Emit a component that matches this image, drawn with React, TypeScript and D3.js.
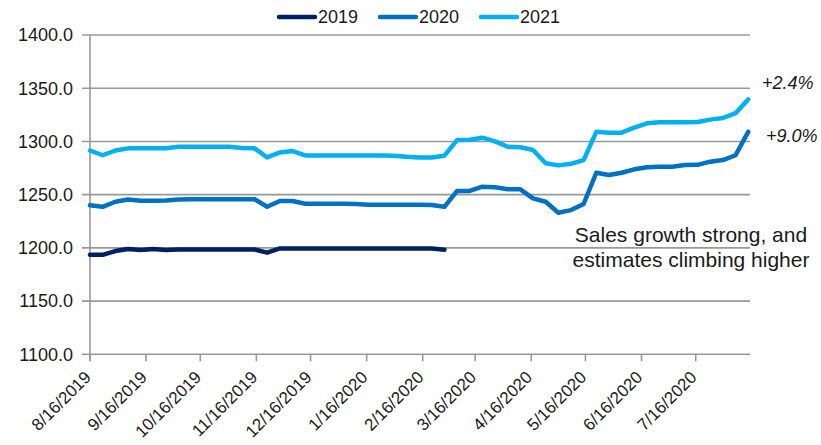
import React from "react";
import * as d3 from "d3";

const startDate = "2019-08-16";
const endDate = "2020-08-15";
const seriesNames = ["2019", "2020", "2021"];
const seriesColors = ["#002060", "#0070C0", "#00B0F0"];

const values2019 = [
  1193.5, 1193.5, 1197, 1199, 1198, 1199, 1198, 1198.5, 1198.5, 1198.5,
  1198.5, 1198.5, 1198.5, 1198.5, 1195.5, 1199.5, 1199.5, 1199.5, 1199.5, 1199.5,
  1199.5, 1199.5, 1199.5, 1199.5, 1199.5, 1199.5, 1199.5, 1199.5, 1198.3,
];
const values2020 = [
  1240, 1238.6, 1243.3, 1245.5, 1244.3, 1244.3, 1244.5, 1245.5, 1245.7, 1245.7,
  1245.7, 1245.7, 1245.7, 1245.7, 1238.6, 1244, 1244, 1241.5, 1241.5, 1241.5,
  1241.5, 1241.2, 1240.5, 1240.5, 1240.5, 1240.5, 1240.5, 1240.3, 1238.6, 1253.5,
  1253.5, 1257.5, 1256.9, 1255, 1255, 1246.5, 1243.3, 1233, 1235.5, 1241.2,
  1270.6, 1268.4, 1270.6, 1273.8, 1275.7, 1276.3, 1276.3, 1277.8, 1278, 1281,
  1282.5, 1287, 1309,
];
const values2021 = [
  1291.5, 1287, 1291.5, 1293.5, 1293.5, 1293.5, 1293.5, 1295, 1295, 1295,
  1295, 1295, 1293.8, 1293.5, 1285, 1289.7, 1291, 1286.8, 1286.8, 1286.8,
  1286.8, 1286.8, 1286.8, 1286.8, 1286.5, 1285.5, 1285, 1285, 1286.6, 1301.3,
  1301.5, 1303.5, 1300, 1295, 1294.5, 1292, 1279.5, 1277.5, 1279, 1282.5,
  1309, 1308.2, 1308.2, 1313, 1317, 1318, 1318, 1318, 1318.3, 1320.5,
  1322, 1326.5, 1339.5,
];
const yTicks = [1100, 1150, 1200, 1250, 1300, 1350, 1400];
const xTickLabels = [
  "8/16/2019", "9/16/2019", "10/16/2019", "11/16/2019", "12/16/2019", "1/16/2020",
  "2/16/2020", "3/16/2020", "4/16/2020", "5/16/2020", "6/16/2020", "7/16/2020",
];
const annotations = ["+2.4%", "+9.0%"];
const noteLines = ["Sales growth strong, and", "estimates climbing higher"];

const W = 821;
const H = 445;
const FONT = "'Liberation Sans', Arial, sans-serif";

export default function App() {
  const parse = d3.timeParse("%Y-%m-%d");
  const parseTick = d3.timeParse("%m/%d/%Y");
  const t0 = parse(startDate) as Date;
  const t1 = parse(endDate) as Date;

  const x = d3.scaleTime().domain([t0, t1]).range([90, 750]);
  const y = d3.scaleLinear().domain([1100, 1400]).range([354.3, 35]);

  const allSeries = [values2019, values2020, values2021];
  const dateAt = (i: number) => d3.timeDay.offset(t0, 7 * i);

  const line = d3
    .line<number>()
    .x((_, i) => x(dateAt(i)))
    .y((d) => y(d));

  const gridColor = "#989898";
  const left = 90;
  const right = 750;
  const bottom = y(1100);

  const legendX = [277, 378, 479];

  return (
    <svg
      width={W}
      height={H}
      style={{ position: "absolute", left: 0, top: 0, background: "#fff" }}
      fontFamily={FONT}
    >
      <rect width={W} height={H} fill="#fff" />
      {yTicks.map((t) => (
        <g key={t}>
          <line x1={82} x2={right} y1={y(t)} y2={y(t)} stroke={gridColor} strokeWidth={1.6} />
          <text x={73} y={y(t)} dy="0.35em" textAnchor="end" fontSize={18} fill="#1a1a1a">
            {t.toFixed(1)}
          </text>
        </g>
      ))}
      <line x1={left} x2={left} y1={y(1400)} y2={bottom + 7} stroke={gridColor} strokeWidth={1.6} />
      {xTickLabels.map((lab) => {
        const tx = x(parseTick(lab) as Date);
        return (
          <g key={lab}>
            <line x1={tx} x2={tx} y1={bottom} y2={bottom + 7} stroke={gridColor} strokeWidth={1.6} />
            <text
              transform={`translate(${tx + 2},${bottom + 24}) rotate(-45)`}
              textAnchor="end"
              fontSize={17}
              fill="#1a1a1a"
            >
              {lab}
            </text>
          </g>
        );
      })}
      {allSeries.map((vals, si) => (
        <path
          key={si}
          d={line(vals) || ""}
          fill="none"
          stroke={seriesColors[si]}
          strokeWidth={4.5}
          strokeLinejoin="round"
          strokeLinecap="round"
        />
      ))}
      {seriesNames.map((n, i) => (
        <g key={n}>
          <line
            x1={legendX[i] + 2}
            x2={legendX[i] + 38}
            y1={17}
            y2={17}
            stroke={seriesColors[i]}
            strokeWidth={4.5}
            strokeLinecap="round"
          />
          <text x={legendX[i] + 41} y={17} dy="0.35em" fontSize={18} fill="#1a1a1a">
            {n}
          </text>
        </g>
      ))}
      <text x={762} y={89} fontSize={18} fontStyle="italic" fill="#1a1a1a">
        {annotations[0]}
      </text>
      <text x={766} y={142} fontSize={18} fontStyle="italic" fill="#1a1a1a">
        {annotations[1]}
      </text>
      {noteLines.map((s, i) => (
        <text key={s} x={691} y={241.5 + i * 25} textAnchor="middle" fontSize={21} fill="#1a1a1a">
          {s}
        </text>
      ))}
    </svg>
  );
}
